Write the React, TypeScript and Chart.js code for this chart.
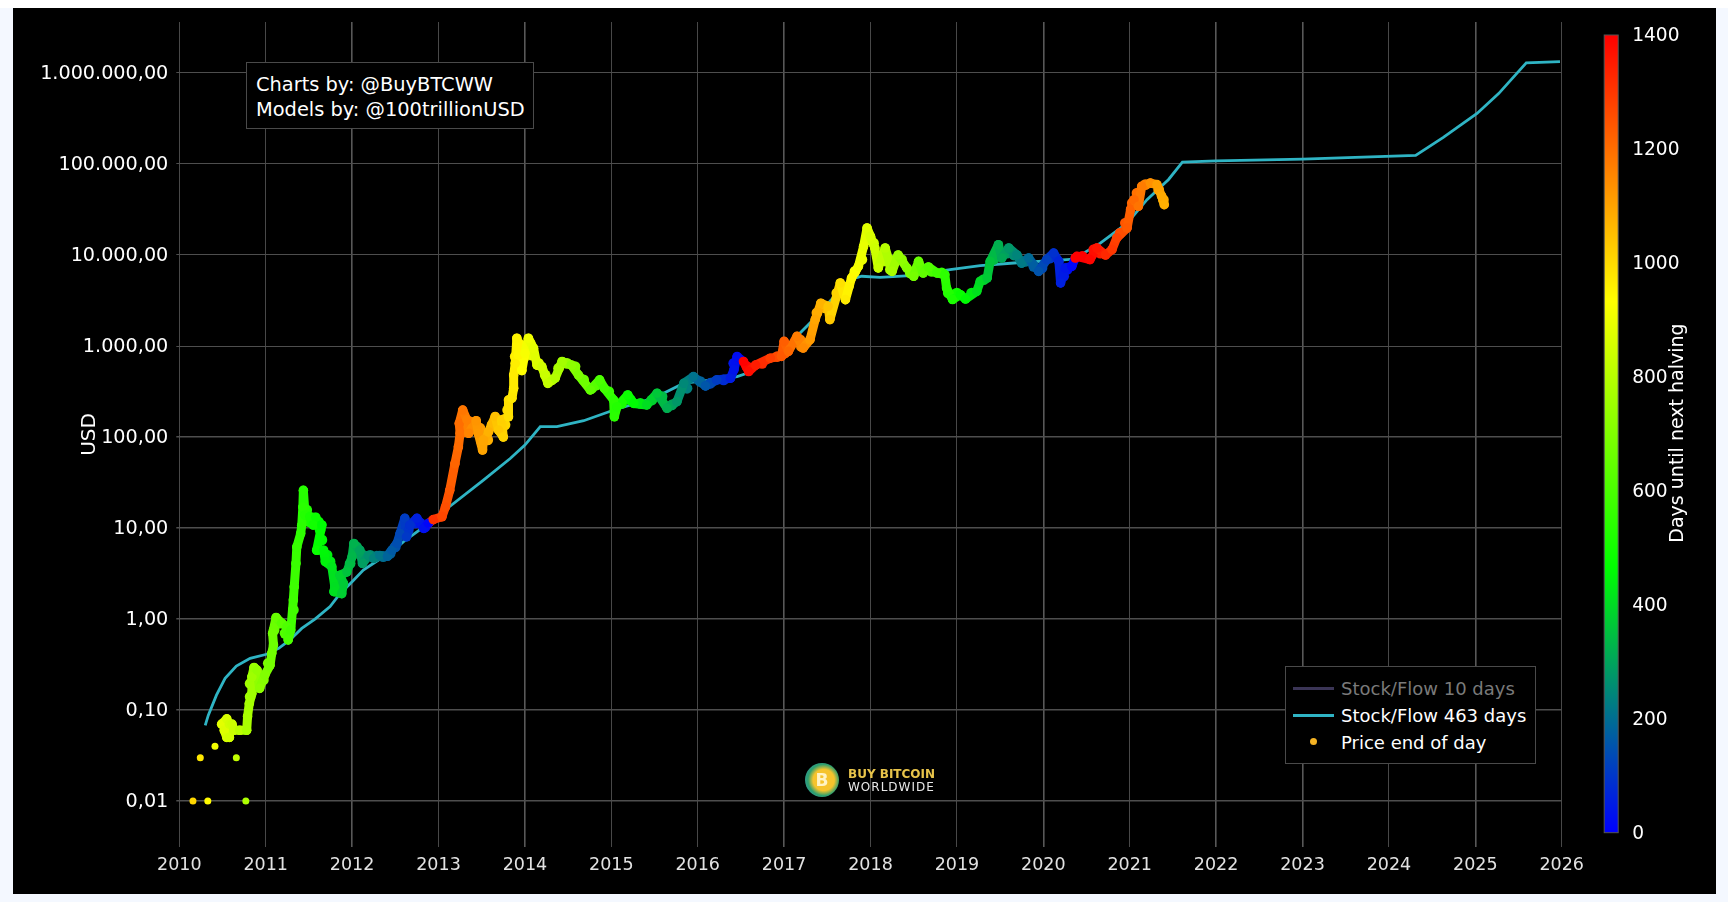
import React, { useEffect, useRef } from "react";
import { Chart, registerables } from "chart.js";

Chart.register(...registerables);

const FONT = "'DejaVu Sans', sans-serif";

const seriesNames = ["Stock/Flow 10 days", "Stock/Flow 463 days", "Price end of day"];
const annotationLines = ["Charts by: @BuyBTCWW", "Models by: @100trillionUSD"];
const colorbarTitle = "Days until next halving";

const yTickValues = [0.01, 0.1, 1, 10, 100, 1000, 10000, 100000, 1000000];
const yTickLabels = ["0,01", "0,10", "1,00", "10,00", "100,00", "1.000,00", "10.000,00", "100.000,00", "1.000.000,00"];
const colorbarTicks = [0, 200, 400, 600, 800, 1000, 1200, 1400];
const heavyYears = [2012, 2014, 2017, 2020, 2022, 2023, 2025];

const halvings = [2012.91, 2016.52, 2020.36, 2024.35];

// lone prints before the price settles
const earlyDates = [2010.158, 2010.33, 2010.77, 2010.243, 2010.413, 2010.66];
const earlyPrices = [0.01, 0.01, 0.01, 0.03, 0.04, 0.03];

const priceDates = [
  2010.49, 2010.55, 2010.52, 2010.55, 2010.58, 2010.58, 2010.61, 2010.63, 2010.7, 2010.78, 2010.79, 2010.81, 2010.84,
  2010.84, 2010.865, 2010.9, 2010.93, 2010.99, 2011.05, 2011.07, 2011.09, 2011.08, 2011.12, 2011.185, 2011.245, 2011.26,
  2011.29, 2011.32, 2011.33, 2011.35, 2011.36, 2011.405, 2011.417, 2011.43, 2011.436, 2011.456, 2011.51, 2011.58, 2011.55,
  2011.65, 2011.59, 2011.67, 2011.69, 2011.765, 2011.8, 2011.79, 2011.88, 2011.9, 2011.86, 2011.94, 2012.0, 2012.02,
  2012.09, 2012.12, 2012.19, 2012.25, 2012.32, 2012.41, 2012.46, 2012.52, 2012.555, 2012.61, 2012.63, 2012.67, 2012.75,
  2012.83, 2012.885, 2012.94, 2013.04, 2013.08, 2013.13, 2013.19, 2013.23, 2013.25, 2013.24, 2013.28, 2013.33, 2013.35,
  2013.436, 2013.46, 2013.51, 2013.52, 2013.58, 2013.656, 2013.695, 2013.75, 2013.73, 2013.81, 2013.81, 2013.85, 2013.87,
  2013.87, 2013.888, 2013.907, 2013.927, 2013.965, 2014.0, 2014.04, 2014.1, 2014.14, 2014.196, 2014.266, 2014.35, 2014.43,
  2014.54, 2014.62, 2014.757, 2014.865, 2014.92, 2015.027, 2015.035, 2015.066, 2015.19, 2015.26, 2015.41, 2015.53,
  2015.645, 2015.76, 2015.84, 2015.95, 2016.09, 2016.22, 2016.38, 2016.42, 2016.456, 2016.53, 2016.59, 2016.67, 2016.84,
  2016.97, 2017.0, 2017.05, 2017.15, 2017.22, 2017.3, 2017.36, 2017.425, 2017.51, 2017.53, 2017.65, 2017.71, 2017.78,
  2017.86, 2017.92, 2017.96, 2018.0, 2018.05, 2018.09, 2018.17, 2018.25, 2018.32, 2018.42, 2018.5, 2018.556, 2018.61,
  2018.67, 2018.77, 2018.86, 2018.88, 2018.95, 2019.04, 2019.1, 2019.23, 2019.27, 2019.35, 2019.385, 2019.48, 2019.52,
  2019.6, 2019.695, 2019.75, 2019.83, 2019.946, 2020.04, 2020.12, 2020.18, 2020.2, 2020.255, 2020.33, 2020.37, 2020.39,
  2020.54, 2020.62, 2020.72, 2020.795, 2020.85, 2020.97, 2021.01, 2021.05, 2021.1, 2021.14, 2021.24, 2021.315, 2021.37,
  2021.4,
];
const priceValues = [
  0.07, 0.08, 0.06, 0.05, 0.05, 0.07, 0.07, 0.06, 0.06, 0.06, 0.085, 0.118, 0.152, 0.232, 0.294, 0.275, 0.173, 0.243, 0.31,
  0.42, 0.52, 0.695, 1.04, 0.9, 0.82, 0.59, 0.757, 1.62, 2.26, 4.09, 6.2, 8.7, 10.7, 17, 26, 13.9, 13.3, 13.1, 10.8, 10.8, 5.7,
  5.7, 4.27, 3.76, 2.26, 2.0, 1.9, 2.46, 3.03, 3.3, 4.84, 6.76, 5.7, 4.08, 5.0, 4.65, 5.0, 4.9, 5.7, 6.8, 8.7, 12.8, 8, 10.8, 12.8,
  9.9, 11.3, 12.4, 13.3, 17, 26, 51, 78, 110, 141, 198, 154, 110, 151, 110, 72, 93, 114, 168, 119, 100, 154, 167, 255, 267, 343,
  480, 645, 1219, 800, 537, 832, 1219, 946, 617, 594, 389, 443, 676, 617, 480, 329, 424, 343, 255, 167, 215, 290, 234, 225, 303,
  207, 245, 390, 461, 364, 424, 443, 550, 766, 676, 524, 617, 735, 770, 1124, 875, 1277, 950, 1174, 1950, 2950, 2730, 1950, 4930,
  3230, 5580, 7500, 12440, 19800, 16030, 11940, 7200, 11940, 6610, 10000, 7200, 5840, 8510, 6340, 7380, 6340, 6090, 4335, 3240,
  3660, 3280, 3990, 5130, 5580, 8510, 12970, 9270, 11940, 10000, 8130, 9270, 6610, 8900, 10500, 8510, 4930, 7200, 7500, 9270,
  9660, 8900, 11940, 10000, 11450, 15400, 19800, 31600, 40500, 34300, 56900, 61700, 59300, 44200, 35700,
];

// more daily closes where the trace is wide and blotchy
const blotchDates = [
  2010.82, 2010.82, 2010.877, 2010.915, 2010.973, 2011.03, 2011.097, 2011.147, 2011.224, 2011.28, 2011.32, 2011.475, 2011.51,
  2011.61, 2011.63, 2011.65, 2011.71, 2011.745, 2011.82, 2011.84, 2011.88, 2011.977, 2012.05, 2012.13, 2012.21, 2012.286, 2012.36,
  2012.44, 2012.5, 2012.595, 2012.65, 2012.73, 2012.79, 2012.845, 2013.29, 2013.367, 2013.386, 2013.31, 2013.48, 2013.5, 2013.57,
  2013.62, 2013.676, 2013.714, 2013.77, 2013.8, 2013.888, 2013.927, 2013.985, 2014.06, 2014.08, 2014.158, 2014.235, 2014.31,
  2014.39, 2014.487, 2014.58, 2014.68, 2014.776, 2014.83, 2014.97, 2015.12, 2015.22, 2015.336, 2015.47, 2015.587, 2015.7,
  2015.876, 2016.03, 2016.147, 2016.3, 2016.417, 2016.57, 2016.745, 2016.92, 2017.01, 2017.185, 2017.2, 2017.38, 2017.475,
  2017.61, 2017.69, 2017.745, 2017.82, 2017.9, 2017.977, 2018.035, 2018.09, 2018.13, 2018.19, 2018.23, 2018.285, 2018.36, 2018.46,
  2018.54, 2018.63, 2018.71, 2018.825, 2018.9, 2019.0, 2019.17, 2019.31, 2019.425, 2019.58, 2019.66, 2019.79, 2019.89, 2019.985,
  2020.08, 2020.236, 2020.275, 2020.45, 2020.585, 2020.66, 2020.89, 2020.95, 2021.03, 2021.085, 2021.18, 2021.335, 2021.39,
];
const blotchValues = [
  0.196, 0.14, 0.223, 0.205, 0.214, 0.326, 0.757, 0.895, 0.697, 0.824, 1.26, 15.8, 11.7, 11.7, 9.5, 7.4, 5.05, 4.27, 2.92, 2.26,
  2.36, 4.08, 6.2, 5.0, 5.0, 4.9, 4.84, 5.25, 6.2, 9.9, 9.5, 11.3, 11.3, 10.3, 160, 147, 125, 114, 125, 88, 93, 136, 147, 130, 136,
  198, 766, 1071, 735, 1071, 795, 645, 480, 424, 570, 645, 594, 424, 343, 373, 316, 234, 255, 234, 255, 278, 225, 343, 407, 390,
  424, 645, 594, 645, 766, 838, 1170, 990, 2310, 2620, 3820, 4170, 4530, 6610, 8910, 14720, 13500, 9660, 9660, 8510, 6920, 8910,
  8910, 6340, 7200, 6920, 6610, 6340, 3820, 3820, 3820, 5370, 8910, 10480, 10000, 8510, 7500, 7200, 9270, 5840, 6920, 9660, 11450,
  10480, 17400, 22400, 37200, 47900, 59300, 52200, 40500,
];

const modelDates = [
  2010.3, 2010.336, 2010.43, 2010.53, 2010.66, 2010.82, 2011.01, 2011.15, 2011.28, 2011.417, 2011.57, 2011.745, 2011.86, 2012.0,
  2012.13, 2012.305, 2012.44, 2012.595, 2012.75, 2012.94, 2013.1, 2013.52, 2013.83, 2014.0, 2014.178, 2014.37, 2014.68, 2015.03,
  2015.49, 2015.84, 2016.0, 2016.456, 2016.57, 2017.0, 2017.07, 2017.34, 2017.55, 2017.76, 2017.9, 2018.11, 2018.46, 2018.92,
  2019.27, 2019.66, 2020.27, 2020.35, 2020.66, 2020.97, 2021.2, 2021.45, 2021.61, 2022.0, 2023.0, 2024.31, 2024.63, 2025.02,
  2025.27, 2025.59, 2025.98,
];
const modelValues = [
  0.068, 0.088, 0.146, 0.223, 0.305, 0.37, 0.41, 0.477, 0.59, 0.79, 1.0, 1.37, 1.9, 2.57, 3.45, 4.45, 5.25, 7.08, 9.1, 12.2, 16.4,
  33.6, 58, 81.6, 130, 130, 151, 198, 267, 390, 407, 461, 501, 870, 1080, 1950, 3240, 5370, 5840, 5690, 5930, 6920, 7640, 8170, 8900,
  9000, 13500, 22400, 40500, 67600, 105000, 108000, 113000, 124000, 196000, 359000, 593000, 1290000, 1330000,
];

const colorStops: [number, number[]][] = [
  [0, [0, 0, 255]],
  [0.333, [0, 255, 0]],
  [0.666, [255, 255, 0]],
  [1, [255, 0, 0]],
];

function colorForDate(year: number) {
  const next = halvings.find((h) => h > year) ?? halvings[halvings.length - 1];
  const t = Math.min(1, ((next - year) * 365.25) / 1400);
  for (let i = 1; i < colorStops.length; i++) {
    if (t <= colorStops[i][0]) {
      const [a, ca] = colorStops[i - 1];
      const [b, cb] = colorStops[i];
      const f = (t - a) / (b - a);
      const c = ca.map((v, k) => Math.round(v + (cb[k] - v) * f));
      return `rgb(${c[0]},${c[1]},${c[2]})`;
    }
  }
  return "rgb(255,0,0)";
}

// scales keep their label overhang as padding, which would squeeze the plot area
function fixBox(s: any, size: { width?: number; height?: number }) {
  if (size.width) s.width = size.width;
  if (size.height) s.height = size.height;
  s.paddingTop = s.paddingBottom = s.paddingLeft = s.paddingRight = 0;
}

// gradient bar and its rotated title, hung on the "cbar" axis
const colorbarPlugin = {
  id: "colorbar",
  afterDraw(chart: any) {
    const { ctx, scales } = chart;
    const s = scales.cbar;
    const x = s.left + 42.5;
    const w = 14;
    const y0 = s.getPixelForValue(0);
    const y1 = s.getPixelForValue(1400);
    const g = ctx.createLinearGradient(0, y0, 0, y1);
    colorStops.forEach(([t, c]) => g.addColorStop(t, `rgb(${c.join(",")})`));
    ctx.save();
    ctx.fillStyle = g;
    ctx.fillRect(x, y1, w, y0 - y1);
    ctx.strokeStyle = "#555";
    ctx.lineWidth = 1;
    ctx.strokeRect(x, y1, w, y0 - y1);
    ctx.translate(1665, 425);
    ctx.rotate(-Math.PI / 2);
    ctx.fillStyle = "#fff";
    ctx.font = `19px ${FONT}`;
    ctx.textAlign = "center";
    ctx.textBaseline = "middle";
    ctx.fillText(colorbarTitle, 0, 0);
    ctx.restore();
  },
};

const Logo = () => (
  <div style={{ position: "absolute", left: 805, top: 763, width: 132, height: 34 }}>
    <div
      style={{
        position: "absolute",
        left: 0,
        top: 0,
        width: 34,
        height: 34,
        borderRadius: 17,
        background: "radial-gradient(circle at 55% 50%, #f6c32c 0 42%, #2f9f6e 62%, #2a8fc0 100%)",
        color: "#fff3c4",
        font: `bold 17px/34px ${FONT}`,
        textAlign: "center",
      }}
    >
      B
    </div>
    <div style={{ position: "absolute", left: 43, top: 4, color: "#e8c44a", font: `bold 12px/14px ${FONT}`, whiteSpace: "nowrap" }}>
      BUY BITCOIN
    </div>
    <div
      style={{
        position: "absolute",
        left: 43,
        top: 17,
        color: "#e8e8e8",
        font: `12px/14px ${FONT}`,
        letterSpacing: 1,
        whiteSpace: "nowrap",
      }}
    >
      WORLDWIDE
    </div>
  </div>
);

const Legend = () => {
  const rowStyle: React.CSSProperties = { position: "absolute", left: 55, whiteSpace: "nowrap", font: `18px/27px ${FONT}` };
  return (
    <div
      style={{
        position: "absolute",
        left: 1285,
        top: 666,
        width: 249,
        height: 96,
        background: "#000",
        border: "1.5px solid #4a4a4a",
      }}
    >
      <div style={{ position: "absolute", left: 7, top: 20, width: 41, height: 2.5, background: "#3b3556" }} />
      <div style={{ ...rowStyle, top: 8, color: "#7a7a7a" }}>{seriesNames[0]}</div>
      <div style={{ position: "absolute", left: 7, top: 47, width: 41, height: 2.5, background: "#2fb4c4" }} />
      <div style={{ ...rowStyle, top: 35, color: "#fff" }}>{seriesNames[1]}</div>
      <div style={{ position: "absolute", left: 24, top: 70.5, width: 7, height: 7, borderRadius: 4, background: "#f5b324" }} />
      <div style={{ ...rowStyle, top: 62, color: "#fff" }}>{seriesNames[2]}</div>
    </div>
  );
};

const Annotation = () => (
  <div
    style={{
      position: "absolute",
      left: 246,
      top: 62,
      width: 286,
      height: 65,
      background: "#000",
      border: "1.5px solid #4a4a4a",
      color: "#fff",
      font: `19.4px/25px ${FONT}`,
    }}
  >
    <div style={{ position: "absolute", left: 9, top: 9, whiteSpace: "nowrap" }}>{annotationLines[0]}</div>
    <div style={{ position: "absolute", left: 9, top: 34, whiteSpace: "nowrap" }}>{annotationLines[1]}</div>
  </div>
);

export default function App() {
  const canvasRef = useRef<HTMLCanvasElement>(null);

  useEffect(() => {
    if (!canvasRef.current) return;
    const dotColor = (c: any) => colorForDate(c.parsed.x);
    const chart = new Chart(canvasRef.current, {
      type: "scatter",
      plugins: [colorbarPlugin],
      data: {
        datasets: [
          {
            label: seriesNames[2],
            order: 0,
            data: priceDates.map((d, i) => ({ x: d, y: priceValues[i] })),
            showLine: true,
            borderWidth: 9,
            borderCapStyle: "round",
            borderJoinStyle: "round",
            segment: {
              borderColor: (c: any) => colorForDate((c.p0.parsed.x + c.p1.parsed.x) / 2),
            },
            pointRadius: 4.8,
            pointBorderWidth: 0,
            pointBackgroundColor: dotColor,
          },
          {
            label: seriesNames[2] + " blotches",
            order: 0,
            data: blotchDates.map((d, i) => ({ x: d, y: blotchValues[i] })),
            showLine: false,
            pointRadius: 5.4,
            pointBorderWidth: 0,
            pointBackgroundColor: dotColor,
          },
          {
            label: seriesNames[2] + " early",
            order: 0,
            data: earlyDates.map((d, i) => ({ x: d, y: earlyPrices[i] })),
            showLine: false,
            pointRadius: 3.5,
            pointBorderWidth: 0,
            pointBackgroundColor: dotColor,
          },
          {
            label: seriesNames[1],
            order: 1,
            data: modelDates.map((d, i) => ({ x: d, y: modelValues[i] })),
            showLine: true,
            borderColor: "#2fb4c4",
            borderWidth: 2.8,
            pointRadius: 0,
          },
        ],
      } as any,
      options: {
        animation: false,
        responsive: false,
        maintainAspectRatio: false,
        layout: { padding: { top: 14, left: 0, right: 0, bottom: 0 } },
        plugins: { legend: { display: false }, tooltip: { enabled: false } },
        scales: {
          x: {
            type: "linear",
            min: 2010,
            max: 2026,
            afterFit: (s: any) => fixBox(s, { height: 47 }),
            border: { display: false },
            grid: {
              drawTicks: false,
              color: (c: any) => (heavyYears.includes(c.tick?.value) ? "#585858" : "#484848"),
              lineWidth: (c: any) => (heavyYears.includes(c.tick?.value) ? 1.6 : 1),
            },
            ticks: {
              stepSize: 1,
              autoSkip: false,
              maxRotation: 0,
              padding: 8,
              color: "#e2e2e2",
              font: { family: FONT, size: 17.5 },
              callback: (v: any) => String(v),
            },
          },
          y: {
            type: "logarithmic",
            min: 0.00313,
            max: 3630000,
            afterFit: (s: any) => fixBox(s, { width: 166.3 }),
            afterBuildTicks: (s: any) => {
              s.ticks = yTickValues.map((value) => ({ value }));
            },
            border: { display: false },
            grid: {
              tickLength: 3,
              color: "#4e4e4e",
              lineWidth: (c: any) => (c.tick?.value <= 100 ? 1.5 : 1),
            },
            title: {
              display: true,
              text: "USD",
              color: "#fff",
              font: { family: FONT, size: 20 },
              padding: { top: 65, bottom: 0 },
            },
            ticks: {
              padding: 8,
              labelOffset: 1,
              autoSkip: false,
              color: "#fff",
              font: { family: FONT, size: 19.2 },
              callback: (v: any) => yTickLabels[yTickValues.indexOf(Number(v))],
            },
          },
          cbar: {
            type: "linear",
            position: "right",
            min: -25.1,
            max: 1422.8,
            afterFit: (s: any) => fixBox(s, { width: 154.3 }),
            afterBuildTicks: (s: any) => {
              s.ticks = colorbarTicks.map((value) => ({ value }));
            },
            border: { display: false },
            grid: { display: false },
            ticks: {
              padding: 62.5,
              labelOffset: 1,
              autoSkip: false,
              color: "#fff",
              font: { family: FONT, size: 18.6 },
              callback: (v: any) => String(v),
            },
          },
        },
      } as any,
    });
    return () => chart.destroy();
  }, []);

  return (
    <div style={{ position: "fixed", left: 0, top: 0, width: 1728, height: 902, background: "#f4f8ff", overflow: "hidden" }}>
      <div style={{ position: "absolute", left: 0, top: 0, width: 1728, height: 8, background: "#fff" }} />
      <div style={{ position: "absolute", left: 13, top: 8, width: 1703, height: 886, background: "#000" }}>
        <canvas ref={canvasRef} width={1703} height={886} style={{ display: "block", width: 1703, height: 886 }} />
      </div>
      <Annotation />
      <Legend />
      <Logo />
    </div>
  );
}
